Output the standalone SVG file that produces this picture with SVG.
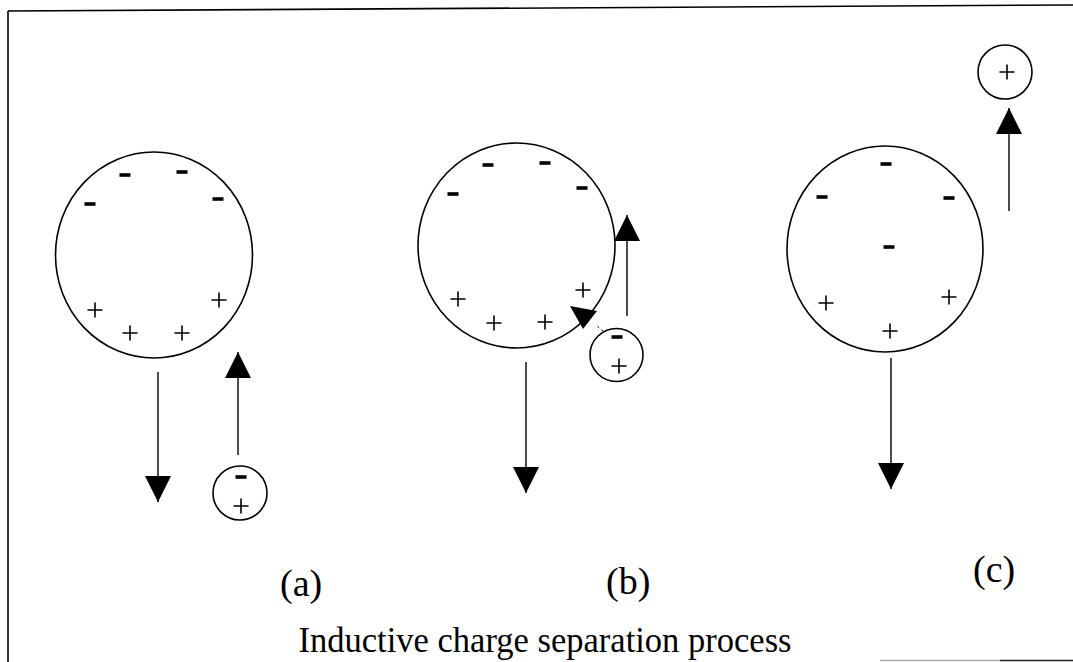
<svg xmlns="http://www.w3.org/2000/svg" width="1073" height="662" viewBox="0 0 1073 662">
<style>
.ball{fill:none;stroke:#000;stroke-width:1.6}
.minus{fill:#000}
.plus{stroke:#000;stroke-width:1.6;fill:none}
.arr{stroke:#000;stroke-width:1.4;fill:none;marker-end:url(#ah)}
.lbl{font-family:"Liberation Serif","Times New Roman",serif;font-size:38px;fill:#000}
.ttl{font-family:"Liberation Serif","Times New Roman",serif;font-size:36px;fill:#000}
.frame{stroke:#000;stroke-width:1.6;fill:none}
</style>
<defs>
<marker id="ah" markerUnits="userSpaceOnUse" markerWidth="26" markerHeight="26" viewBox="0 0 24 24" refX="24" refY="12" orient="auto">
<path d="M0,0 L24,12 L0,24 Z" fill="#000"/>
</marker>
<path id="m" d="M-5.5,-1.8 h11 v3.6 h-11 z"/>
<path id="p" d="M-7.5,0 h15 M0,-7.5 v15"/>
</defs>
<rect width="1073" height="662" fill="#fff"/>
<g id="frame">
<path class="frame" d="M8,11 L1073,5"/>
<path class="frame" d="M8,11 L8,662"/>
<path d="M880,660.5 L1000,660.5" stroke="#aaa" stroke-width="1.4"/>
<path d="M1000,660.5 L1073,660.5" stroke="#222" stroke-width="1.6"/>
</g>
<g id="sphere-a">
<ellipse class="ball" cx="154" cy="255" rx="98.5" ry="103"/>
<use href="#m" class="minus" x="125" y="175"/>
<use href="#m" class="minus" x="182" y="172"/>
<use href="#m" class="minus" x="90" y="204"/>
<use href="#m" class="minus" x="218" y="199"/>
<use href="#p" class="plus" x="95" y="310"/>
<use href="#p" class="plus" x="130" y="333"/>
<use href="#p" class="plus" x="182" y="333"/>
<use href="#p" class="plus" x="219" y="300"/>
</g>
<g id="drop-a">
<circle class="ball" cx="240" cy="493" r="27"/>
<use href="#m" class="minus" x="241" y="477"/>
<use href="#p" class="plus" x="241" y="506"/>
</g>
<g id="sphere-b">
<ellipse class="ball" cx="516.5" cy="245.5" rx="98.5" ry="102.5"/>
<use href="#m" class="minus" x="453" y="194"/>
<use href="#m" class="minus" x="488" y="165"/>
<use href="#m" class="minus" x="545" y="163"/>
<use href="#m" class="minus" x="582" y="188"/>
<use href="#p" class="plus" x="458" y="299"/>
<use href="#p" class="plus" x="494" y="323"/>
<use href="#p" class="plus" x="545" y="322"/>
<use href="#p" class="plus" x="583" y="290"/>
</g>
<g id="drop-b">
<circle class="ball" cx="616.5" cy="355" r="26.5"/>
<use href="#m" class="minus" x="617" y="337"/>
<use href="#p" class="plus" x="619" y="366"/>
</g>
<g id="sphere-c">
<ellipse class="ball" cx="885" cy="249" rx="98" ry="103"/>
<use href="#m" class="minus" x="886" y="164"/>
<use href="#m" class="minus" x="822" y="197"/>
<use href="#m" class="minus" x="949" y="198"/>
<use href="#m" class="minus" x="889" y="247"/>
<use href="#p" class="plus" x="826" y="303"/>
<use href="#p" class="plus" x="949" y="297"/>
<use href="#p" class="plus" x="890" y="331"/>
</g>
<g id="drop-c">
<circle class="ball" cx="1005" cy="72" r="27"/>
<use href="#p" class="plus" x="1007" y="72"/>
</g>
<g id="connectors">
<path class="arr" d="M158,372 L158,502"/>
<path class="arr" d="M238,455 L238,352"/>
<path class="arr" d="M526,362 L526,493"/>
<path class="arr" d="M627,316 L627,215"/>
<path d="M603,331 L597,326" stroke="#000" stroke-width="1" stroke-dasharray="2,3" fill="none"/>
<path d="M570,306 L597,311 L583,329 Z" fill="#000"/>
<path class="arr" d="M891,358 L891,489"/>
<path class="arr" d="M1009,211 L1009,108"/>
</g>
<g id="labels">
<text class="lbl" x="280" y="596">(a)</text>
<text class="lbl" x="606" y="594">(b)</text>
<text class="lbl" x="973" y="582">(c)</text>
<text class="ttl" x="545" y="652" text-anchor="middle" textLength="493" lengthAdjust="spacingAndGlyphs">Inductive charge separation process</text>
</g>
</svg>
